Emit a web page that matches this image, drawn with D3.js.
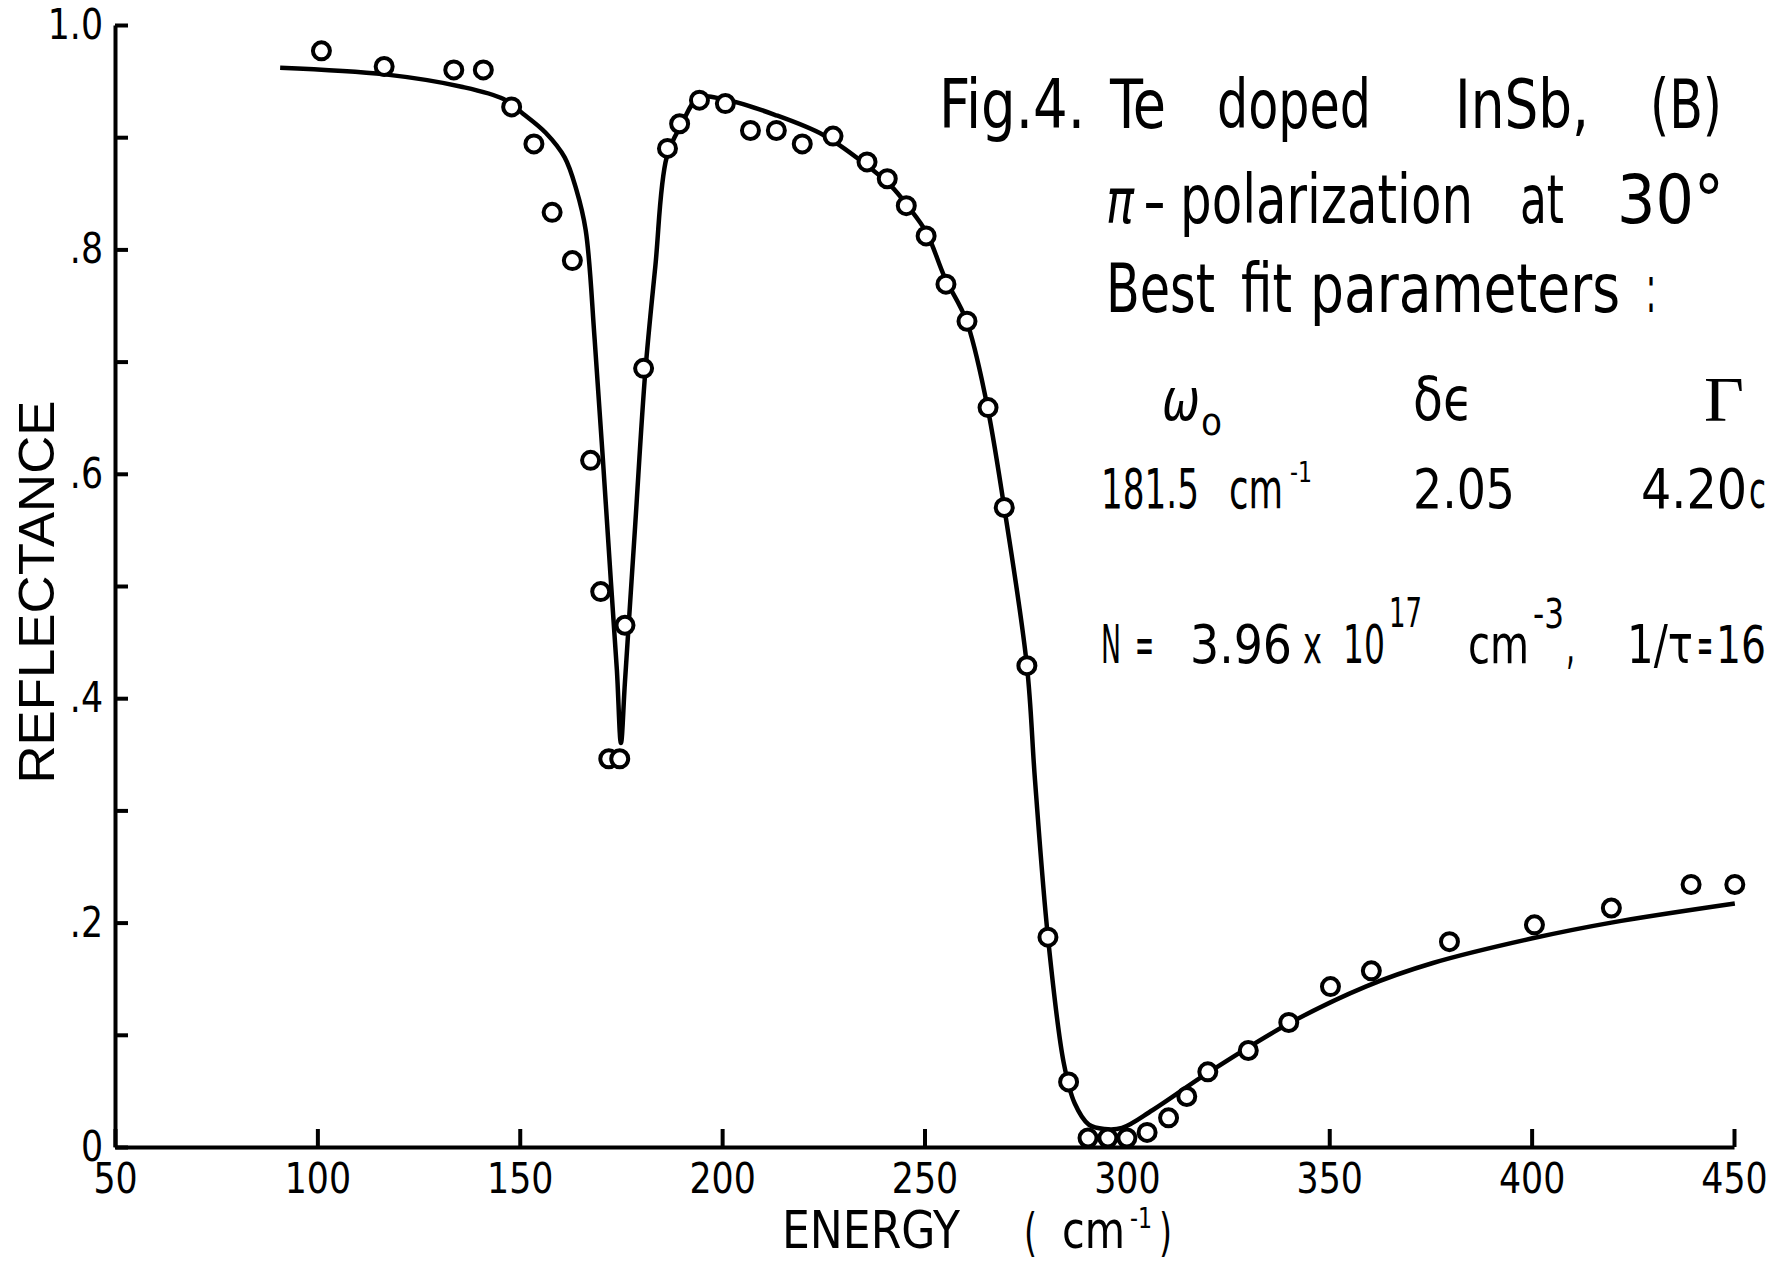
<!DOCTYPE html>
<html>
<head>
<meta charset="utf-8">
<title>Te doped InSb reflectance</title>
<script src="https://cdn.jsdelivr.net/npm/d3@7"></script>
<style>
body { margin: 0; background: #fff; }
svg { display: block; }
text { fill: #000; font-family: "DejaVu Sans Condensed", "DejaVu Sans", sans-serif; font-stretch: condensed; }
</style>
</head>
<body>
<svg id="chart" width="1779" height="1264"></svg>
<script>

// measured points (open circles)
var measEnergy = [101, 116.5, 133.7, 141, 148, 153.5, 158, 163, 167.5, 170, 172, 174.7, 176, 180.6,
	186.5, 189.5, 194.4, 200.8, 207, 213.4, 219.8, 227.4, 235.8, 240.8, 245.5, 250.4, 255.3, 260.5,
	265.7, 269.7, 275.3, 280.5, 285.6, 290.4, 295.3, 300, 305, 310.3, 314.8, 320, 330, 340, 350.3,
	360.4, 379.7, 400.7, 419.7, 439.4, 450.2];
var measRefl = [0.977, 0.963, 0.960, 0.960, 0.927, 0.894, 0.833, 0.790, 0.612, 0.495, 0.346, 0.346,
	0.465, 0.694, 0.890, 0.912, 0.933, 0.930, 0.906, 0.906, 0.894, 0.901, 0.878, 0.863, 0.839, 0.812,
	0.769, 0.736, 0.659, 0.570, 0.429, 0.187, 0.058, 0.008, 0.008, 0.008, 0.013, 0.026, 0.045, 0.067,
	0.086, 0.111, 0.143, 0.157, 0.183, 0.198, 0.213, 0.234, 0.234];

// best fit curve (solid line)
var fitEnergy = [90.8, 116.7, 135.6, 146, 150.8, 156.4, 161.1, 164, 166.3, 168.5, 170.5, 172.5, 174,
	175, 176, 178.5, 181, 183.5, 186.3, 189.9, 194.2, 201.4, 213, 225, 235, 241.6, 246, 250.5, 255,
	260.3, 265.2, 269.7, 275.3, 277.3, 280.5, 284.4, 287.1, 290.6, 294.5, 298.8, 306.4, 320, 340, 359,
	375.6, 400.2, 419.7, 450.2];
var fitRefl = [0.962, 0.956, 0.945, 0.934, 0.921, 0.904, 0.882, 0.853, 0.817, 0.72, 0.615, 0.505,
	0.425, 0.36, 0.415, 0.553, 0.69, 0.785, 0.882, 0.911, 0.935, 0.933, 0.920, 0.902, 0.877, 0.857,
	0.838, 0.815, 0.775, 0.737, 0.666, 0.570, 0.429, 0.327, 0.187, 0.075, 0.039, 0.020, 0.016, 0.017,
	0.033, 0.066, 0.110, 0.143, 0.164, 0.186, 0.200, 0.217];

var energyTicks = [50, 100, 150, 200, 250, 300, 350, 400, 450];
var reflTicks = [0, 0.1, 0.2, 0.3, 0.4, 0.5, 0.6, 0.7, 0.8, 0.9, 1.0];
var reflTickLabels = ["0", "", ".2", "", ".4", "", ".6", "", ".8", "", "1.0"];

var svg = d3.select("#chart");

var x = d3.scaleLinear().domain([50, 450]).range([115, 1734]);
var y = d3.scaleLinear().domain([0, 1]).range([1147, 25]);

// axes
var xAxis = svg.append("g")
	.attr("transform", "translate(0,1147)")
	.call(d3.axisBottom(x).tickValues(energyTicks).tickSize(-18).tickSizeOuter(0).tickPadding(16)
		.tickFormat(d3.format("d")));
var yAxis = svg.append("g")
	.attr("transform", "translate(" + x(50) + ",0)")
	.call(d3.axisLeft(y).tickValues(reflTicks).tickSize(-13).tickSizeOuter(0).tickPadding(12)
		.tickFormat(function (d, i) { return reflTickLabels[i]; }));

[xAxis, yAxis].forEach(function (g) {
	g.attr("font-family", null).attr("font-size", null);
	g.selectAll("path, line").attr("stroke", "#000").attr("stroke-width", 4);
	g.selectAll("text").attr("font-size", 42).attr("fill", "#000")
		.each(function () {
			var w = this.getComputedTextLength();
			if (w > 0) d3.select(this).attr("textLength", w * 0.92).attr("lengthAdjust", "spacingAndGlyphs");
		});
});

// fit curve
var line = d3.line()
	.x(function (d) { return x(d[0]); })
	.y(function (d) { return y(d[1]); })
	.curve(d3.curveCatmullRom.alpha(0.5));

svg.append("path")
	.datum(d3.zip(fitEnergy, fitRefl))
	.attr("d", line)
	.attr("fill", "none")
	.attr("stroke", "#000")
	.attr("stroke-width", 4.5)
	.attr("stroke-linejoin", "round");

// data circles
svg.selectAll("circle.meas")
	.data(d3.zip(measEnergy, measRefl))
	.enter().append("circle")
		.attr("class", "meas")
		.attr("cx", function (d) { return x(d[0]); })
		.attr("cy", function (d) { return y(d[1]); })
		.attr("r", 8.5)
		.attr("fill", "#fff")
		.attr("stroke", "#000")
		.attr("stroke-width", 4);

// text helper: squeeze each piece to the width it has in the figure
function label(str, xl, yb, size, width) {
	var t = svg.append("text").attr("x", xl).attr("y", yb).attr("font-size", size).text(str);
	if (width) t.attr("textLength", width).attr("lengthAdjust", "spacingAndGlyphs");
	return t;
}

// axis titles
svg.append("text")
	.attr("transform", "translate(54,592) rotate(-90)")
	.attr("text-anchor", "middle")
	.attr("font-size", 50)
	.style("font-family", "'Liberation Sans', Arial, sans-serif")
	.style("font-stretch", "normal")
	.attr("textLength", 383)
	.attr("lengthAdjust", "spacingAndGlyphs")
	.text("REFLECTANCE");

label("ENERGY", 782, 1248, 52, 178);
label("(", 1024, 1250, 52, 13);
label("cm", 1062, 1248, 52, 63);
label("-1", 1130, 1228, 28, 22);
label(")", 1159, 1250, 52, 13);

// annotation block
label("Fig.4.", 939, 128, 68, 146);
label("Te", 1110, 128, 68, 56);
label("doped", 1217, 128, 68, 154);
label("InSb,", 1455, 128, 68, 134);
label("(B)", 1650, 128, 68, 72);

label("\u03c0", 1106, 223, 62, 28).style("font-style", "italic");
label("-", 1143, 223, 62, 23);
label("polarization", 1180, 223, 68, 293);
label("at", 1520, 223, 68, 44);
label("30\u00b0", 1617, 223, 68, 107);

label("Best", 1106, 312, 68, 109);
label("fit", 1241, 312, 68, 51);
label("parameters", 1310, 312, 68, 310);
label(":", 1646, 312, 68, 10);

label("\u03c9", 1162, 420, 58, 38).style("font-style", "italic");
label("o", 1201, 435, 38, 21);
label("\u03b4\u03f5", 1413, 420, 60, 60);
label("\u0393", 1704, 421, 64, 40)
	.style("font-family", "'Liberation Serif', 'DejaVu Serif', serif").style("font-stretch", "normal");

label("181.5", 1101, 508, 56, 98);
label("cm", 1229, 508, 56, 54);
label("-1", 1290, 482, 28, 22);
label("2.05", 1413, 508, 56, 102);
label("4.20", 1641, 508, 56, 106);
label("c", 1749, 508, 52, 17);

label("N", 1101, 663, 53, 20);
label("=", 1135, 663, 53, 19);
label("3.96", 1190, 663, 53, 102);
label("x", 1303, 663, 53, 19);
label("10", 1343, 663, 53, 42);
label("17", 1389, 627, 40, 33);
label("cm", 1468, 663, 53, 61);
label("-3", 1533, 628, 40, 31);
label(",", 1566, 663, 53, 9);
label("1/\u03c4", 1627, 663, 53, 66);
label("=", 1697, 663, 53, 16);
label("16", 1716, 663, 52, 50);

</script>
</body>
</html>
